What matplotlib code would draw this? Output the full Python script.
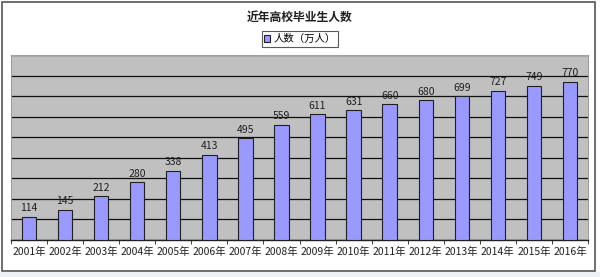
import matplotlib
matplotlib.use("Agg")
import matplotlib.pyplot as plt
from matplotlib.patches import Rectangle
import numpy as np

plt.rcParams['font.family'] = ['Noto Sans CJK SC', 'DejaVu Sans']

title = "近年高校毕业生人数"
series_name = "人数（万人）"
years = ["2001年", "2002年", "2003年", "2004年", "2005年", "2006年", "2007年", "2008年",
         "2009年", "2010年", "2011年", "2012年", "2013年", "2014年", "2015年", "2016年"]
values = [114, 145, 212, 280, 338, 413, 495, 559, 611, 631, 660, 680, 699, 727, 749, 770]

W, H = 600, 277
fig = plt.figure(figsize=(W / 100, H / 100), dpi=100)
fig.patch.set_facecolor("white")

# bottom light strip and outer frame
fig.patches.append(Rectangle((0, 0), 1, 5 / H, transform=fig.transFigure,
                             facecolor="#eef2f6", edgecolor="none", zorder=0))
fig.patches.append(Rectangle((1.5 / W, 6 / H), (595 - 1.5) / W, (275.5 - 6) / H,
                             transform=fig.transFigure, facecolor="none",
                             edgecolor="#555555", linewidth=1.2, zorder=1))

ax = fig.add_axes([11 / W, 1 - 240 / H, (588 - 11) / W, (240 - 55) / H])
ax.set_facecolor("#c0c0c0")

x = np.arange(len(years))
bars = ax.bar(x, values, width=0.4, color="#9999ff", edgecolor="#202020",
              linewidth=0.8, zorder=3)
for xi, v in zip(x, values):
    ax.text(xi, v + 18, str(v), ha="center", va="bottom", fontsize=7.5,
            color="#202020", zorder=4)

ax.set_ylim(0, 900)
ax.set_yticks(np.arange(0, 901, 100))
ax.yaxis.grid(True, color="#101010", linewidth=0.9, zorder=1)
ax.set_axisbelow(True)
ax.tick_params(axis="y", left=False, labelleft=False)

ax.set_xlim(-0.5, len(years) - 0.5)
ax.set_xticks(x)
ax.set_xticklabels(years, fontsize=7.5, color="#202020")
ax.tick_params(axis="x", which="major", length=0, pad=5)
ax.set_xticks(np.arange(-0.5, len(years), 1.0), minor=True)
ax.tick_params(axis="x", which="minor", length=3, direction="out", color="#202020")

for s in ["left", "top", "right"]:
    ax.spines[s].set_color("#a0a0a0")
    ax.spines[s].set_linewidth(0.8)
ax.spines["bottom"].set_color("#202020")
ax.spines["bottom"].set_linewidth(1.0)

fig.text(0.5, 1 - 17 / H, title, ha="center", va="center", fontsize=8.5,
         fontweight="bold", color="#202020")

leg = ax.legend([bars], [series_name], loc="center",
                fontsize=7.5, frameon=True, fancybox=False, edgecolor="#303030",
                handlelength=0.6, handleheight=0.6, handletextpad=0.3,
                borderpad=0.25, borderaxespad=0)
leg.get_frame().set_linewidth(0.8)
leg.set_bbox_to_anchor((0.5, 1 - 39 / H), transform=fig.transFigure)

fig.savefig("out.png", dpi=100)
